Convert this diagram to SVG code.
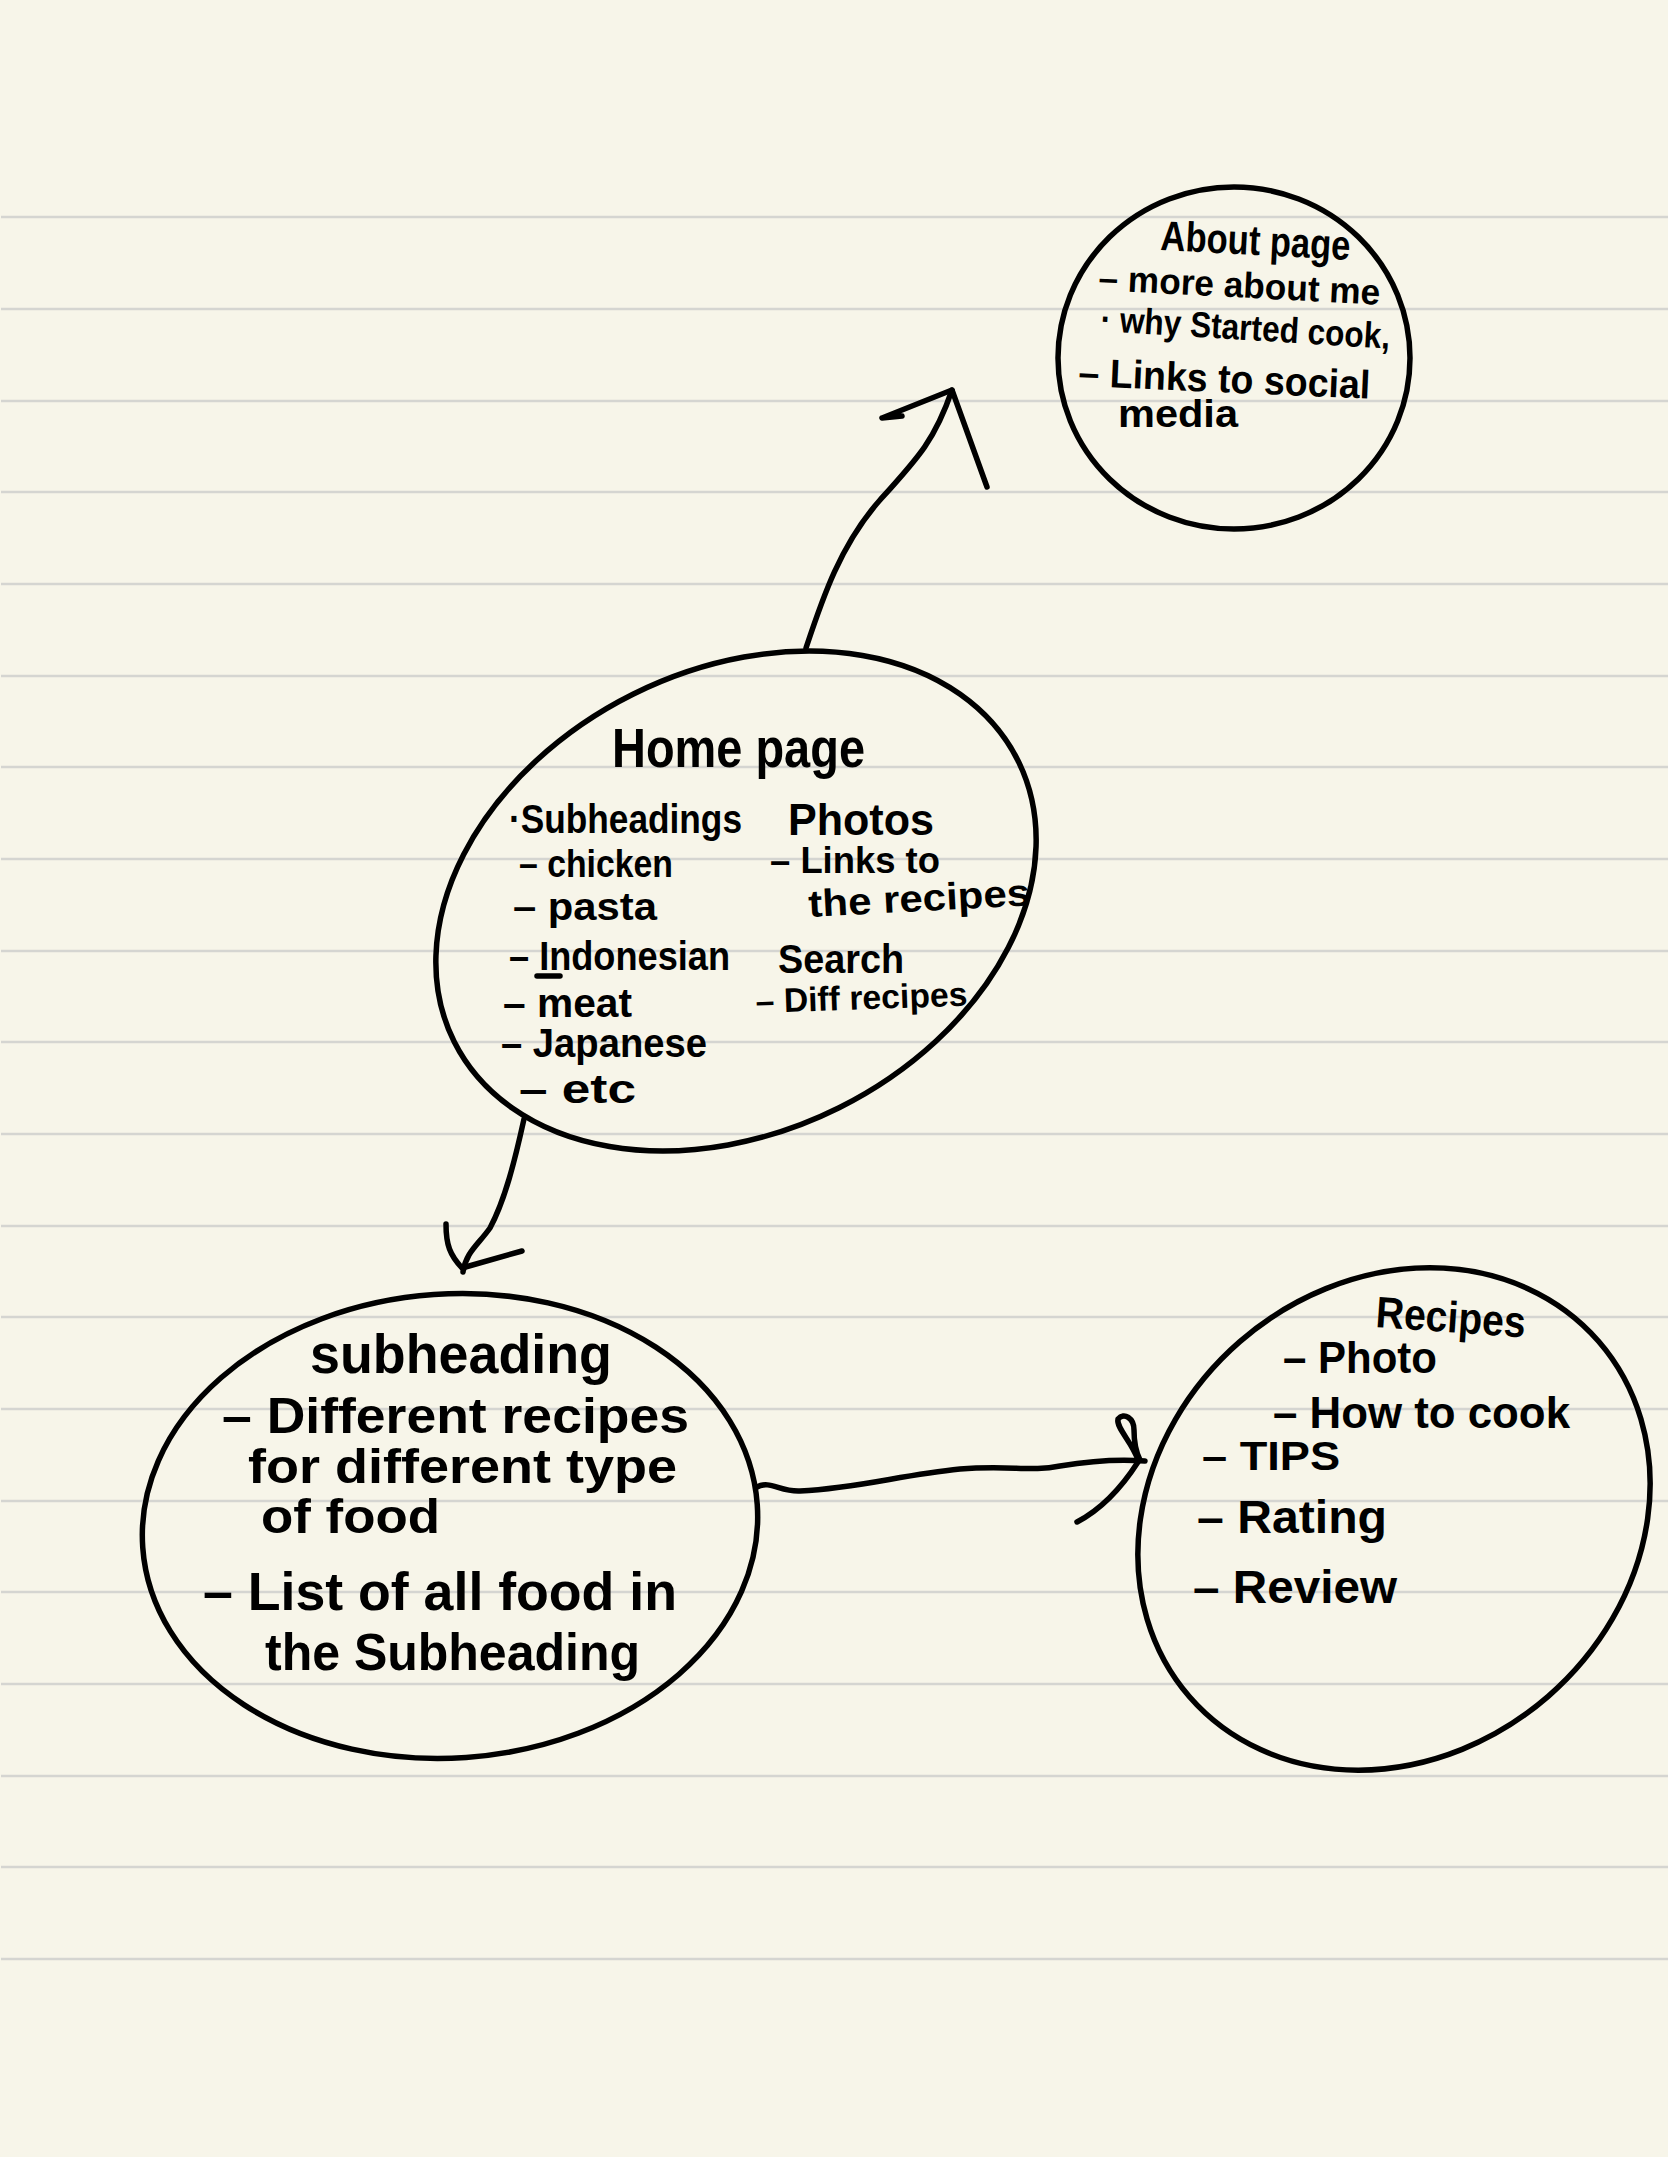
<svg xmlns="http://www.w3.org/2000/svg" width="1668" height="2157" viewBox="0 0 1668 2157">
<style>
.paper{fill:#f7f5e9}
.rule{stroke:#d5d5d1;stroke-width:2.5}
.shape{fill:none;stroke:#000;stroke-width:5.5;stroke-linecap:round;stroke-linejoin:round}
.ink{fill:#000;font-family:"Liberation Sans Narrow","Liberation Sans",sans-serif;font-weight:bold}
</style>
<rect class="paper" x="0" y="0" width="1668" height="2157"/>
<g id="rules">
<line class="rule" x1="1" y1="217" x2="1668" y2="217"/>
<line class="rule" x1="1" y1="309" x2="1668" y2="309"/>
<line class="rule" x1="1" y1="401" x2="1668" y2="401"/>
<line class="rule" x1="1" y1="492" x2="1668" y2="492"/>
<line class="rule" x1="1" y1="584" x2="1668" y2="584"/>
<line class="rule" x1="1" y1="676" x2="1668" y2="676"/>
<line class="rule" x1="1" y1="767" x2="1668" y2="767"/>
<line class="rule" x1="1" y1="859" x2="1668" y2="859"/>
<line class="rule" x1="1" y1="951" x2="1668" y2="951"/>
<line class="rule" x1="1" y1="1042" x2="1668" y2="1042"/>
<line class="rule" x1="1" y1="1134" x2="1668" y2="1134"/>
<line class="rule" x1="1" y1="1226" x2="1668" y2="1226"/>
<line class="rule" x1="1" y1="1317" x2="1668" y2="1317"/>
<line class="rule" x1="1" y1="1409" x2="1668" y2="1409"/>
<line class="rule" x1="1" y1="1501" x2="1668" y2="1501"/>
<line class="rule" x1="1" y1="1592" x2="1668" y2="1592"/>
<line class="rule" x1="1" y1="1684" x2="1668" y2="1684"/>
<line class="rule" x1="1" y1="1776" x2="1668" y2="1776"/>
<line class="rule" x1="1" y1="1867" x2="1668" y2="1867"/>
<line class="rule" x1="1" y1="1959" x2="1668" y2="1959"/>
</g>

<g id="node-about">
<ellipse class="shape" cx="1234" cy="358" rx="176" ry="171"/>
<text class="ink" x="1160" y="250" font-size="42" textLength="190" lengthAdjust="spacingAndGlyphs" transform="rotate(3 1160 250)">About page</text>
<text class="ink" x="1098" y="290" font-size="36" textLength="282" lengthAdjust="spacingAndGlyphs" transform="rotate(3 1098 290)">– more about me</text>
<text class="ink" x="1100" y="331" font-size="36" textLength="290" lengthAdjust="spacingAndGlyphs" transform="rotate(3.5 1100 331)">· why Started cook,</text>
<text class="ink" x="1078" y="386" font-size="40" textLength="292" lengthAdjust="spacingAndGlyphs" transform="rotate(2.5 1078 386)">– Links to social</text>
<text class="ink" x="1118" y="427" font-size="38" textLength="120" lengthAdjust="spacingAndGlyphs">media</text>
</g>

<g id="node-home">
<ellipse class="shape" cx="736" cy="901" rx="315" ry="231" transform="rotate(-26.5 736 901)"/>
<text class="ink" x="612" y="767" font-size="56" textLength="253" lengthAdjust="spacingAndGlyphs">Home page</text>
<text class="ink" x="509" y="833" font-size="40" textLength="233" lengthAdjust="spacingAndGlyphs">·Subheadings</text>
<text class="ink" x="788" y="835" font-size="44" textLength="146" lengthAdjust="spacingAndGlyphs">Photos</text>
<text class="ink" x="519" y="877" font-size="38" textLength="154" lengthAdjust="spacingAndGlyphs">– chicken</text>
<text class="ink" x="770" y="873" font-size="36" textLength="170" lengthAdjust="spacingAndGlyphs">– Links to</text>
<text class="ink" x="809" y="917" font-size="38" textLength="222" lengthAdjust="spacingAndGlyphs" transform="rotate(-3 809 917)">the recipes</text>
<text class="ink" x="513" y="920" font-size="38" textLength="144" lengthAdjust="spacingAndGlyphs">– pasta</text>
<text class="ink" x="509" y="970" font-size="40" textLength="221" lengthAdjust="spacingAndGlyphs">– Indonesian</text>
<path class="shape" d="M537,976 L560,976" stroke-width="3"/>
<text class="ink" x="778" y="973" font-size="40" textLength="126" lengthAdjust="spacingAndGlyphs">Search</text>
<text class="ink" x="503" y="1017" font-size="40" textLength="129" lengthAdjust="spacingAndGlyphs">– meat</text>
<text class="ink" x="756" y="1013" font-size="34" textLength="212" lengthAdjust="spacingAndGlyphs" transform="rotate(-2 756 1013)">– Diff recipes</text>
<text class="ink" x="501" y="1057" font-size="40" textLength="206" lengthAdjust="spacingAndGlyphs">– Japanese</text>
<text class="ink" x="519" y="1103" font-size="40" textLength="117" lengthAdjust="spacingAndGlyphs">– etc</text>
</g>

<g id="node-subheading">
<ellipse class="shape" cx="450" cy="1526" rx="308" ry="232" transform="rotate(-4 450 1526)"/>
<text class="ink" x="310" y="1373" font-size="56" textLength="302" lengthAdjust="spacingAndGlyphs">subheading</text>
<text class="ink" x="222" y="1433" font-size="50" textLength="467" lengthAdjust="spacingAndGlyphs">– Different recipes</text>
<text class="ink" x="248" y="1483" font-size="48" textLength="429" lengthAdjust="spacingAndGlyphs">for different type</text>
<text class="ink" x="261" y="1533" font-size="48" textLength="179" lengthAdjust="spacingAndGlyphs">of food</text>
<text class="ink" x="203" y="1610" font-size="54" textLength="474" lengthAdjust="spacingAndGlyphs">– List of all food in</text>
<text class="ink" x="265" y="1670" font-size="52" textLength="375" lengthAdjust="spacingAndGlyphs">the Subheading</text>
</g>

<g id="node-recipes">
<ellipse class="shape" cx="1394" cy="1519" rx="271" ry="235" transform="rotate(-41 1394 1519)"/>
<text class="ink" x="1375" y="1327" font-size="44" textLength="150" lengthAdjust="spacingAndGlyphs" transform="rotate(4 1375 1327)">Recipes</text>
<text class="ink" x="1283" y="1373" font-size="44" textLength="154" lengthAdjust="spacingAndGlyphs">– Photo</text>
<text class="ink" x="1273" y="1428" font-size="44" textLength="297" lengthAdjust="spacingAndGlyphs">– How to cook</text>
<text class="ink" x="1202" y="1470" font-size="40" textLength="138" lengthAdjust="spacingAndGlyphs">– TIPS</text>
<text class="ink" x="1197" y="1533" font-size="46" textLength="190" lengthAdjust="spacingAndGlyphs">– Rating</text>
<text class="ink" x="1193" y="1603" font-size="46" textLength="204" lengthAdjust="spacingAndGlyphs">– Review</text>
</g>

<g id="connectors">
<path class="shape" d="M806,648 C822,600 840,545 880,500 C918,458 935,440 952,390"/>
<path class="shape" d="M882,418 L902,416 M882,418 L952,390 L987,487"/>
<path class="shape" d="M524,1119 C515,1160 505,1200 490,1228 C478,1245 466,1252 463,1272"/>
<path class="shape" d="M446,1224 C446,1245 450,1255 462,1268 L522,1251"/>
<path class="shape" d="M757,1487 C770,1480 780,1492 800,1491 C860,1488 900,1475 960,1469 C1010,1465 1030,1472 1060,1466 C1090,1461 1120,1459 1145,1461"/>
<path class="shape" d="M1138,1460 C1132,1442 1116,1428 1118,1419 C1124,1412 1134,1418 1134,1430 C1134,1445 1136,1452 1140,1460"/>
<path class="shape" d="M1138,1462 C1120,1490 1100,1510 1077,1522"/>
</g>
</svg>
